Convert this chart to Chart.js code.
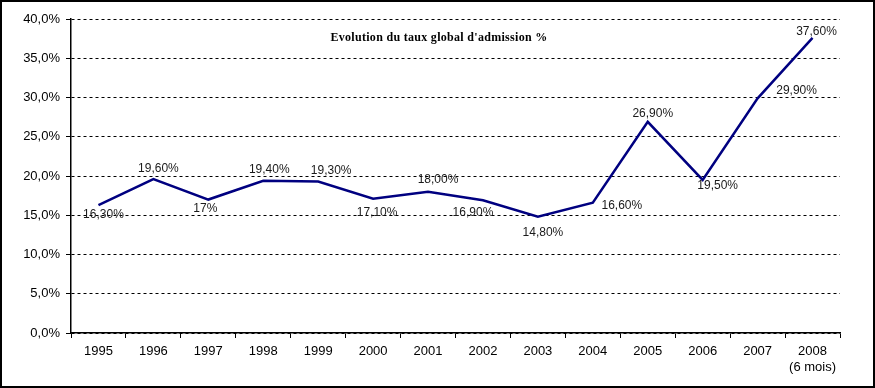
<!DOCTYPE html>
<html>
<head>
<meta charset="utf-8">
<script src="https://cdn.jsdelivr.net/npm/chart.js@4"></script>
<style>
  html, body { margin: 0; padding: 0; background: #fff; }
  #wrap { width: 875px; height: 388px; position: relative; }
</style>
</head>
<body>
<div id="wrap"><canvas id="c" width="875" height="388"></canvas></div>
<script>
const ANNEES = ["1995", "1996", "1997", "1998", "1999", "2000", "2001", "2002", "2003", "2004", "2005", "2006", "2007", ["2008", "(6 mois)"]];
const TAUX = [16.3, 19.6, 17, 19.4, 19.3, 17.1, 18.0, 16.9, 14.8, 16.6, 26.9, 19.5, 29.9, 37.6];
const ETIQUETTES = ["16,30%", "19,60%", "17%", "19,40%", "19,30%", "17,10%", "18,00%", "16,90%", "14,80%", "16,60%", "26,90%", "19,50%", "29,90%", "37,60%"];
const Y_TICKS = [0, 5, 10, 15, 20, 25, 30, 35, 40];
const TITRE = "Evolution du taux global d'admission %";

// décalage de chaque étiquette par rapport à son point (px)
const DECALAGES = [[5, 10], [5, -10], [-3, 9], [6, -11], [13, -11], [4, 14], [10, -12], [-10, 12], [5, 16], [29, 3], [5, -8], [15, 6], [39, -8], [4, -6]];

const etiquettes = {
  id: "etiquettes",
  afterDatasetsDraw(chart) {
    const { ctx } = chart;
    const meta = chart.getDatasetMeta(0);
    ctx.save();
    ctx.font = "12px 'Liberation Sans', Arial, sans-serif";
    ctx.fillStyle = "#1a1a1a";
    ctx.textAlign = "center";
    ctx.textBaseline = "middle";
    meta.data.forEach((pt, i) => {
      const [dx, dy] = DECALAGES[i];
      ctx.fillText(ETIQUETTES[i], pt.x + dx, pt.y + dy);
    });
    ctx.restore();
  },
};

const titreEtCadre = {
  id: "titreEtCadre",
  afterDraw(chart) {
    const { ctx, chartArea } = chart;
    ctx.save();
    ctx.font = "bold 12px 'Liberation Serif', 'Times New Roman', serif";
    ctx.letterSpacing = "0.3px";
    ctx.fillStyle = "#000";
    ctx.textAlign = "center";
    ctx.textBaseline = "middle";
    ctx.fillText(TITRE, chartArea.left + 368, chartArea.top + 19);
    ctx.strokeStyle = "#000";
    ctx.lineWidth = 2;
    ctx.strokeRect(1, 1, chart.width - 2, chart.height - 2);
    ctx.restore();
  },
};

new Chart(document.getElementById("c"), {
  type: "line",
  data: {
    labels: ANNEES,
    datasets: [{
      data: TAUX,
      borderColor: "#000080",
      borderWidth: 2.5,
      pointRadius: 0,
      tension: 0,
      fill: false,
    }],
  },
  options: {
    responsive: false,
    animation: false,
    layout: { padding: { top: 19, right: 35, left: 0, bottom: 0 } },
    plugins: { legend: { display: false }, tooltip: { enabled: false }, title: { display: false } },
    scales: {
      x: {
        offset: true,
        grid: { offset: true, drawOnChartArea: false, drawTicks: true, tickLength: 5, color: "#000", lineWidth: 1 },
        border: { display: true, color: "#000", width: 1.5 },
        ticks: { color: "#000", font: { family: "'Liberation Sans', Arial, sans-serif", size: 13 }, padding: 6, maxRotation: 0, autoSkip: false },
        afterFit: (s) => { s.height = 55; },
      },
      y: {
        min: 0, max: 40,
        afterBuildTicks: (s) => { s.ticks = Y_TICKS.map((v) => ({ value: v })); },
        grid: { color: "#000", lineWidth: 1, drawTicks: true, tickLength: 5, tickBorderDash: [], tickWidth: 1 },
        border: { display: true, color: "#000", width: 1.5, dash: [3, 3] },
        ticks: {
          color: "#000",
          font: { family: "'Liberation Sans', Arial, sans-serif", size: 13 },
          padding: 6,
          callback: (v) => v.toFixed(1).replace(".", ",") + "%",
        },
        afterFit: (s) => { s.width = 71; },
      },
    },
  },
  plugins: [etiquettes, titreEtCadre],
});
</script>
</body>
</html>
